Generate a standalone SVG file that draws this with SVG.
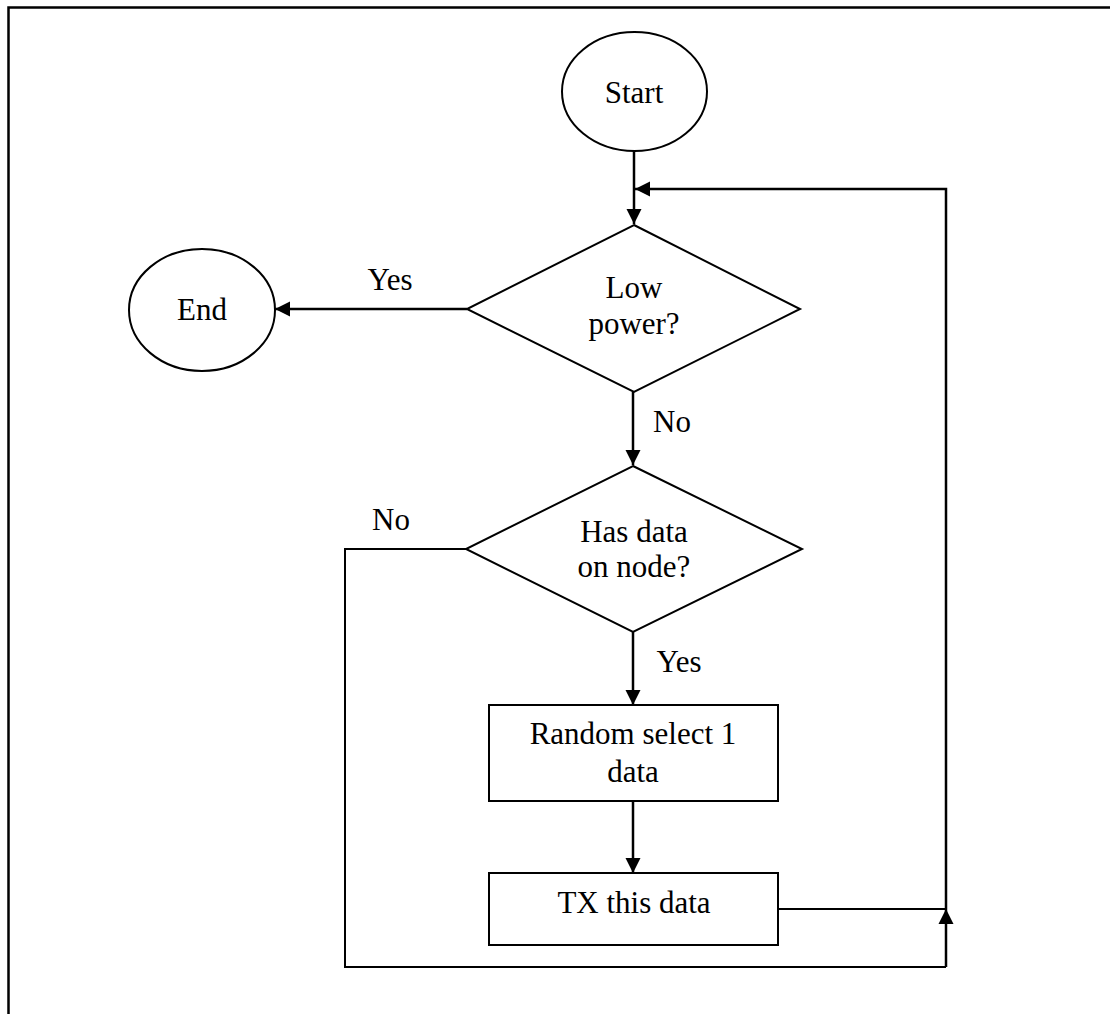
<svg xmlns="http://www.w3.org/2000/svg" width="1110" height="1014" viewBox="0 0 1110 1014">
  <defs>
    <marker id="arrow" markerUnits="userSpaceOnUse" markerWidth="16" markerHeight="16" viewBox="0 0 16 16" refX="15" refY="8" orient="auto">
      <path d="M0,0.5 L15,8 L0,15.5 Z" fill="#000"/>
    </marker>
    <style>
      .shape { fill: #fff; stroke: #000; stroke-width: 2; }
      .line { fill: none; stroke: #000; stroke-width: 2.5; }
      .thin { fill: none; stroke: #000; stroke-width: 2; }
      text { font-family: "Liberation Serif", "Times New Roman", serif; font-size: 31px; fill: #000; text-anchor: middle; }
    </style>
  </defs>
  <rect width="1110" height="1014" fill="#fff"/>
  <!-- page frame (top and left edges only) -->
  <path d="M8.5,1014 V7.5 H1110" fill="none" stroke="#000" stroke-width="2.5"/>

  <g id="connectors">
    <!-- Start to decision -->
    <line class="line" x1="634" y1="151" x2="634" y2="224" marker-end="url(#arrow)"/>
    <!-- loop back into main flow -->
    <polyline class="line" points="946,909 946,189 635,189" marker-end="url(#arrow)"/>
    <!-- low power: yes -> End -->
    <line class="line" x1="467" y1="309" x2="275" y2="309" marker-end="url(#arrow)"/>
    <!-- low power: no -> data check -->
    <line class="line" x1="633" y1="392" x2="633" y2="465" marker-end="url(#arrow)"/>
    <!-- data check: yes -> select -->
    <line class="line" x1="633" y1="632" x2="633" y2="705" marker-end="url(#arrow)"/>
    <!-- select -> transmit -->
    <line class="line" x1="633" y1="801" x2="633" y2="873" marker-end="url(#arrow)"/>
    <!-- transmit -> loop -->
    <line class="thin" x1="778" y1="909" x2="946" y2="909"/>
    <!-- data check: no -> loop -->
    <polyline class="thin" points="466,549 345,549 345,967 946,967"/>
    <line class="line" x1="946" y1="967" x2="946" y2="909" marker-end="url(#arrow)"/>
    <text x="390" y="290">Yes</text>
    <text x="672" y="432">No</text>
    <text x="391" y="530">No</text>
    <text x="679" y="672">Yes</text>
  </g>

  <g id="start">
    <ellipse class="shape" cx="634.5" cy="91.5" rx="72.5" ry="59.5"/>
    <text x="634" y="103">Start</text>
  </g>

  <g id="end">
    <ellipse class="shape" cx="202" cy="310" rx="73" ry="61"/>
    <text x="202" y="320">End</text>
  </g>

  <g id="low-power">
    <polygon class="shape" points="634,225 800,309 634,392 467,309"/>
    <text x="634" y="298">Low</text>
    <text x="634" y="334">power?</text>
  </g>

  <g id="has-data">
    <polygon class="shape" points="633,466 802,549 633,632 466,549"/>
    <text x="634" y="542">Has data</text>
    <text x="634" y="577">on node?</text>
  </g>

  <g id="random-select">
    <rect class="shape" x="489" y="705" width="289" height="96"/>
    <text x="633" y="744">Random select 1</text>
    <text x="633" y="782">data</text>
  </g>

  <g id="tx-data">
    <rect class="shape" x="489" y="873" width="289" height="72"/>
    <text x="634" y="913">TX this data</text>
  </g>
</svg>
